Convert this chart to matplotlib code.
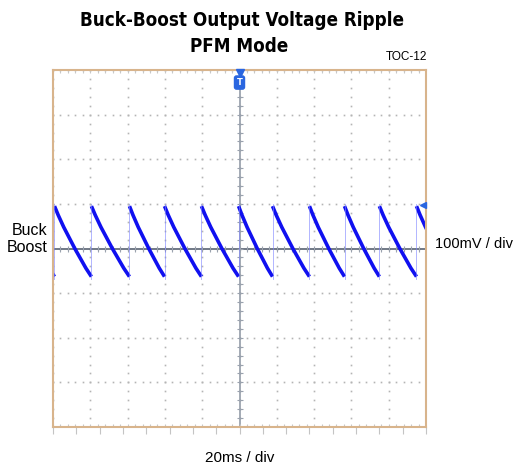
import numpy as np
from matplotlib import pyplot as plt

# scope trace: 20 ms/div, 100 mV/div
jump_ms = [-99.2, -79.4, -59.0, -40.2, -20.4, -0.5, 17.7, 37.5, 56.3, 75.0, 94.9]
cycle_phase = [0.0, 0.1, 0.25, 0.4, 0.55, 0.7, 0.85, 1.0]
cycle_mv = [95, 75, 48, 24, 0, -22, -44, -63]

x_div = [-100, -80, -60, -40, -20, 0, 20, 40, 60, 80, 100]
y_div = [-400, -300, -200, -100, 0, 100, 200, 300, 400]

trace_col = '#1010f0'
grid_col = '#b4b4b4'
frame_col = '#d8b48c'

fig = plt.figure(figsize=(5.16, 4.67), dpi=100)
ax = fig.add_axes([0.1027, 0.0857, 0.7229, 0.7643])
ax.set_xlim(-100, 100)
ax.set_ylim(-400, 400)

# dotted graticule
sub_x = np.arange(-100, 100.1, 4)
sub_y = np.arange(-400, 400.1, 20)
for xv in x_div:
    ax.plot([xv] * len(sub_y), sub_y, ls='none', marker='s', ms=1.2, color=grid_col, mew=0)
for yv in y_div:
    ax.plot(sub_x, [yv] * len(sub_x), ls='none', marker='s', ms=1.2, color=grid_col, mew=0)

# centre cross with small ticks
ax.axhline(0, color='#4a5566', lw=1.1)
ax.axvline(0, color='#8a93a0', lw=1.1)
ax.plot(sub_x, [0] * len(sub_x), ls='none', marker='|', ms=4, mew=0.8, color='#9aa2ae')
ax.plot([0] * len(sub_y), sub_y, ls='none', marker='_', ms=4, mew=0.8, color='#9aa2ae')
# edge ticks (top / bottom inside)
ax.plot(sub_x, [400] * len(sub_x), ls='none', marker='|', ms=4, mew=0.8, color='#c8c8c8')
ax.plot(sub_x, [-400] * len(sub_x), ls='none', marker='|', ms=4, mew=0.8, color='#c8c8c8')

# trace
periods = np.diff(jump_ms)
mean_p = periods.mean()
ph = np.array(cycle_phase)
mv = np.array(cycle_mv)
# tail before the first jump
t0 = jump_ms[0] - mean_p * (1 - ph)
ax.plot(t0, mv, color=trace_col, lw=2.6, solid_capstyle='butt')
for i, j in enumerate(jump_ms):
    p = periods[i] if i < len(periods) else mean_p
    ax.plot(j + ph * p, mv, color=trace_col, lw=2.6, solid_capstyle='butt')
    ax.plot([j, j], [cycle_mv[-1] - 5, cycle_mv[0] + 5], color='#7f86ff', lw=0.6, alpha=0.7)

# markers: trigger and channel level
ax.plot(0, 393, marker='v', color='#2a66e0', ms=6, clip_on=False, zorder=5)
ax.text(0, 372, 'T', color='white', fontsize=6, fontweight='bold', ha='center', va='center',
        bbox=dict(boxstyle='round,pad=0.25', fc='#2a66e0', ec='#2a66e0'), zorder=6)
ax.plot(98.5, 97, marker='<', color='#2a66e0', ms=5, clip_on=False, zorder=5)

for s in ax.spines.values():
    s.set_color(frame_col)
    s.set_linewidth(1.5)
ax.set_xticks(np.linspace(-100, 100, 17))
ax.set_yticks([])
ax.tick_params(axis='x', direction='out', length=5, color='#c4c4c4', labelbottom=False)

fig.text(0.469, 0.957, 'Buck-Boost Output Voltage Ripple', ha='center', va='center',
         fontsize=13.5, fontweight='bold', family='DejaVu Sans', fontstretch='condensed')
fig.text(0.463, 0.901, 'PFM Mode', ha='center', va='center',
         fontsize=13.5, fontweight='bold', family='DejaVu Sans', fontstretch='condensed')
fig.text(0.828, 0.877, 'TOC-12', ha='right', va='center', fontsize=8.5, family='Liberation Sans')
fig.text(0.092, 0.488, 'Buck\nBoost', ha='right', va='center', fontsize=11.5,
         family='Liberation Sans', linespacing=1.22)
fig.text(0.843, 0.478, '100mV / div', ha='left', va='center', fontsize=10.5, family='Liberation Sans')
fig.text(0.465, 0.019, '20ms / div', ha='center', va='center', fontsize=11, family='Liberation Sans')

fig.savefig('out.png', dpi=100)
